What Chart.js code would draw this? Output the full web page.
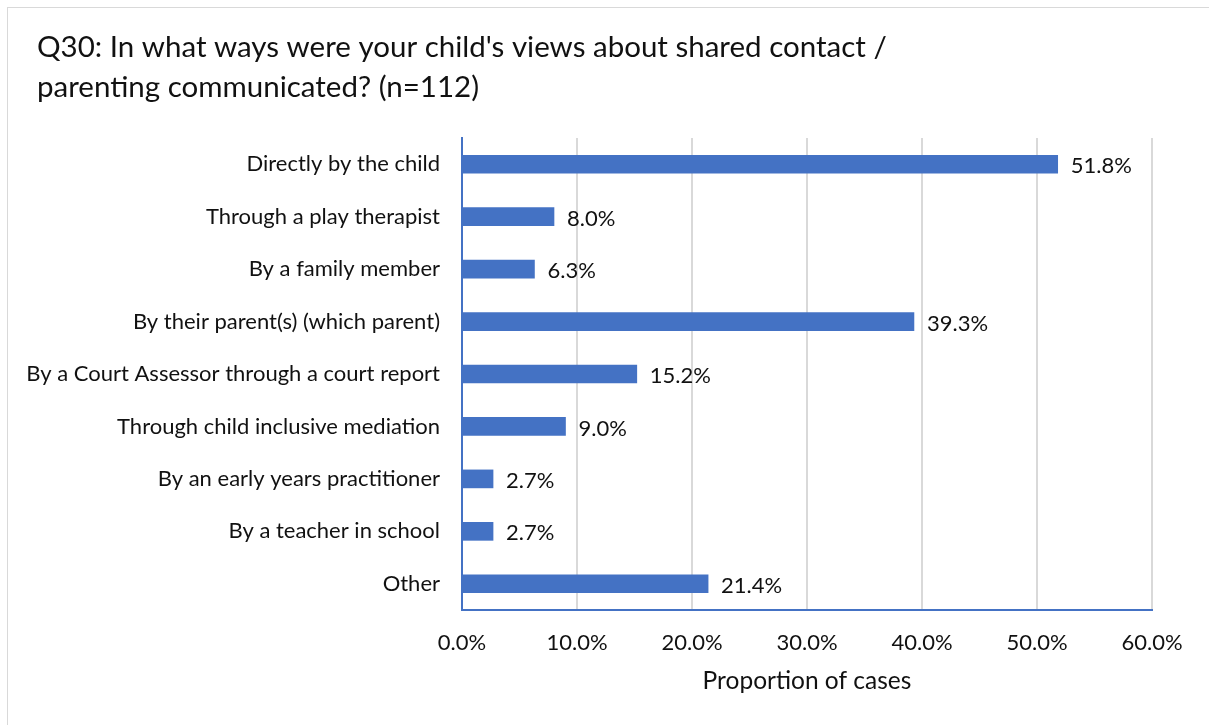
<!DOCTYPE html>
<html>
<head>
<meta charset="utf-8">
<script src="https://cdn.jsdelivr.net/npm/chart.js@4/dist/chart.umd.min.js"></script>
<style>
  html, body { margin: 0; padding: 0; background: #fff; overflow: hidden; }
  #frame { position: absolute; left: 7px; top: 7px; width: 1260px; height: 780px; border: 1px solid #d9d9d9; }
  #wrap { position: absolute; left: 0; top: 0; width: 1209px; height: 725px; }
</style>
</head>
<body>
<div id="frame"></div>
<div id="wrap"><canvas id="barChart"></canvas></div>
<script>
// Survey answers and their share of cases (%)
const categories = [
  'Directly by the child',
  'Through a play therapist',
  'By a family member',
  'By their parent(s) (which parent)',
  'By a Court Assessor through a court report',
  'Through child inclusive mediation',
  'By an early years practitioner',
  'By a teacher in school',
  'Other'
];
const shares = [51.8, 8.0, 6.3, 39.3, 15.2, 9.0, 2.7, 2.7, 21.4];
const titleLines = [
  "Q30: In what ways were your child's views about shared contact /",
  'parenting communicated? (n=112)'
];
const axisTitle = 'Proportion of cases';

const FONT = "Lato, 'Open Sans', sans-serif";
const BLUE = '#4472c4';

// heading in the top left corner
const heading = {
  id: 'heading',
  afterDraw(chart) {
    const ctx = chart.ctx;
    ctx.save();
    ctx.font = '29.5px ' + FONT;
    ctx.fillStyle = '#111';
    ctx.textAlign = 'left';
    ctx.textBaseline = 'middle';
    titleLines.forEach((line, i) => ctx.fillText(line, 37, 47 + i * 40));
    ctx.restore();
  }
};

// value labels to the right of each bar
const barLabels = {
  id: 'barLabels',
  afterDatasetsDraw(chart) {
    const ctx = chart.ctx;
    const meta = chart.getDatasetMeta(0);
    ctx.save();
    ctx.font = '22px ' + FONT;
    ctx.fillStyle = '#111';
    ctx.textAlign = 'left';
    ctx.textBaseline = 'middle';
    meta.data.forEach((bar, i) => {
      ctx.fillText(shares[i].toFixed(1) + '%', bar.x + 13, bar.y + 2);
    });
    ctx.restore();
  }
};

const ctx = document.getElementById('barChart').getContext('2d');
const chart = new Chart(ctx, {
  type: 'bar',
  data: {
    labels: categories,
    datasets: [{
      data: shares,
      backgroundColor: BLUE,
      barThickness: 18
    }]
  },
  options: {
    indexAxis: 'y',
    responsive: true,
    maintainAspectRatio: false,
    animation: false,
    layout: { padding: { left: 0, right: 57, top: 138, bottom: 29 } },
    scales: {
      x: {
        min: 0,
        max: 60,
        ticks: {
          stepSize: 10,
          padding: 20,
          color: '#111',
          font: { family: FONT, size: 22 },
          callback: v => v.toFixed(1) + '%'
        },
        grid: { color: '#d9d9d9', lineWidth: 2, drawTicks: false },
        border: { color: BLUE, width: 2 },
        title: {
          display: true,
          text: axisTitle,
          color: '#111',
          font: { family: FONT, size: 24.5 },
          padding: { top: 10, bottom: 0 }
        },
        afterFit(scale) { scale.height = 86; }
      },
      y: {
        ticks: {
          padding: 22,
          color: '#111',
          font: { family: FONT, size: 22 }
        },
        grid: { display: false, drawTicks: false },
        border: { color: BLUE, width: 2 },
        afterFit(scale) { scale.width = 462; }
      }
    },
    plugins: {
      legend: { display: false },
      tooltip: { enabled: false },
      title: { display: false }
    }
  },
  plugins: [barLabels, heading]
});
</script>
</body>
</html>
